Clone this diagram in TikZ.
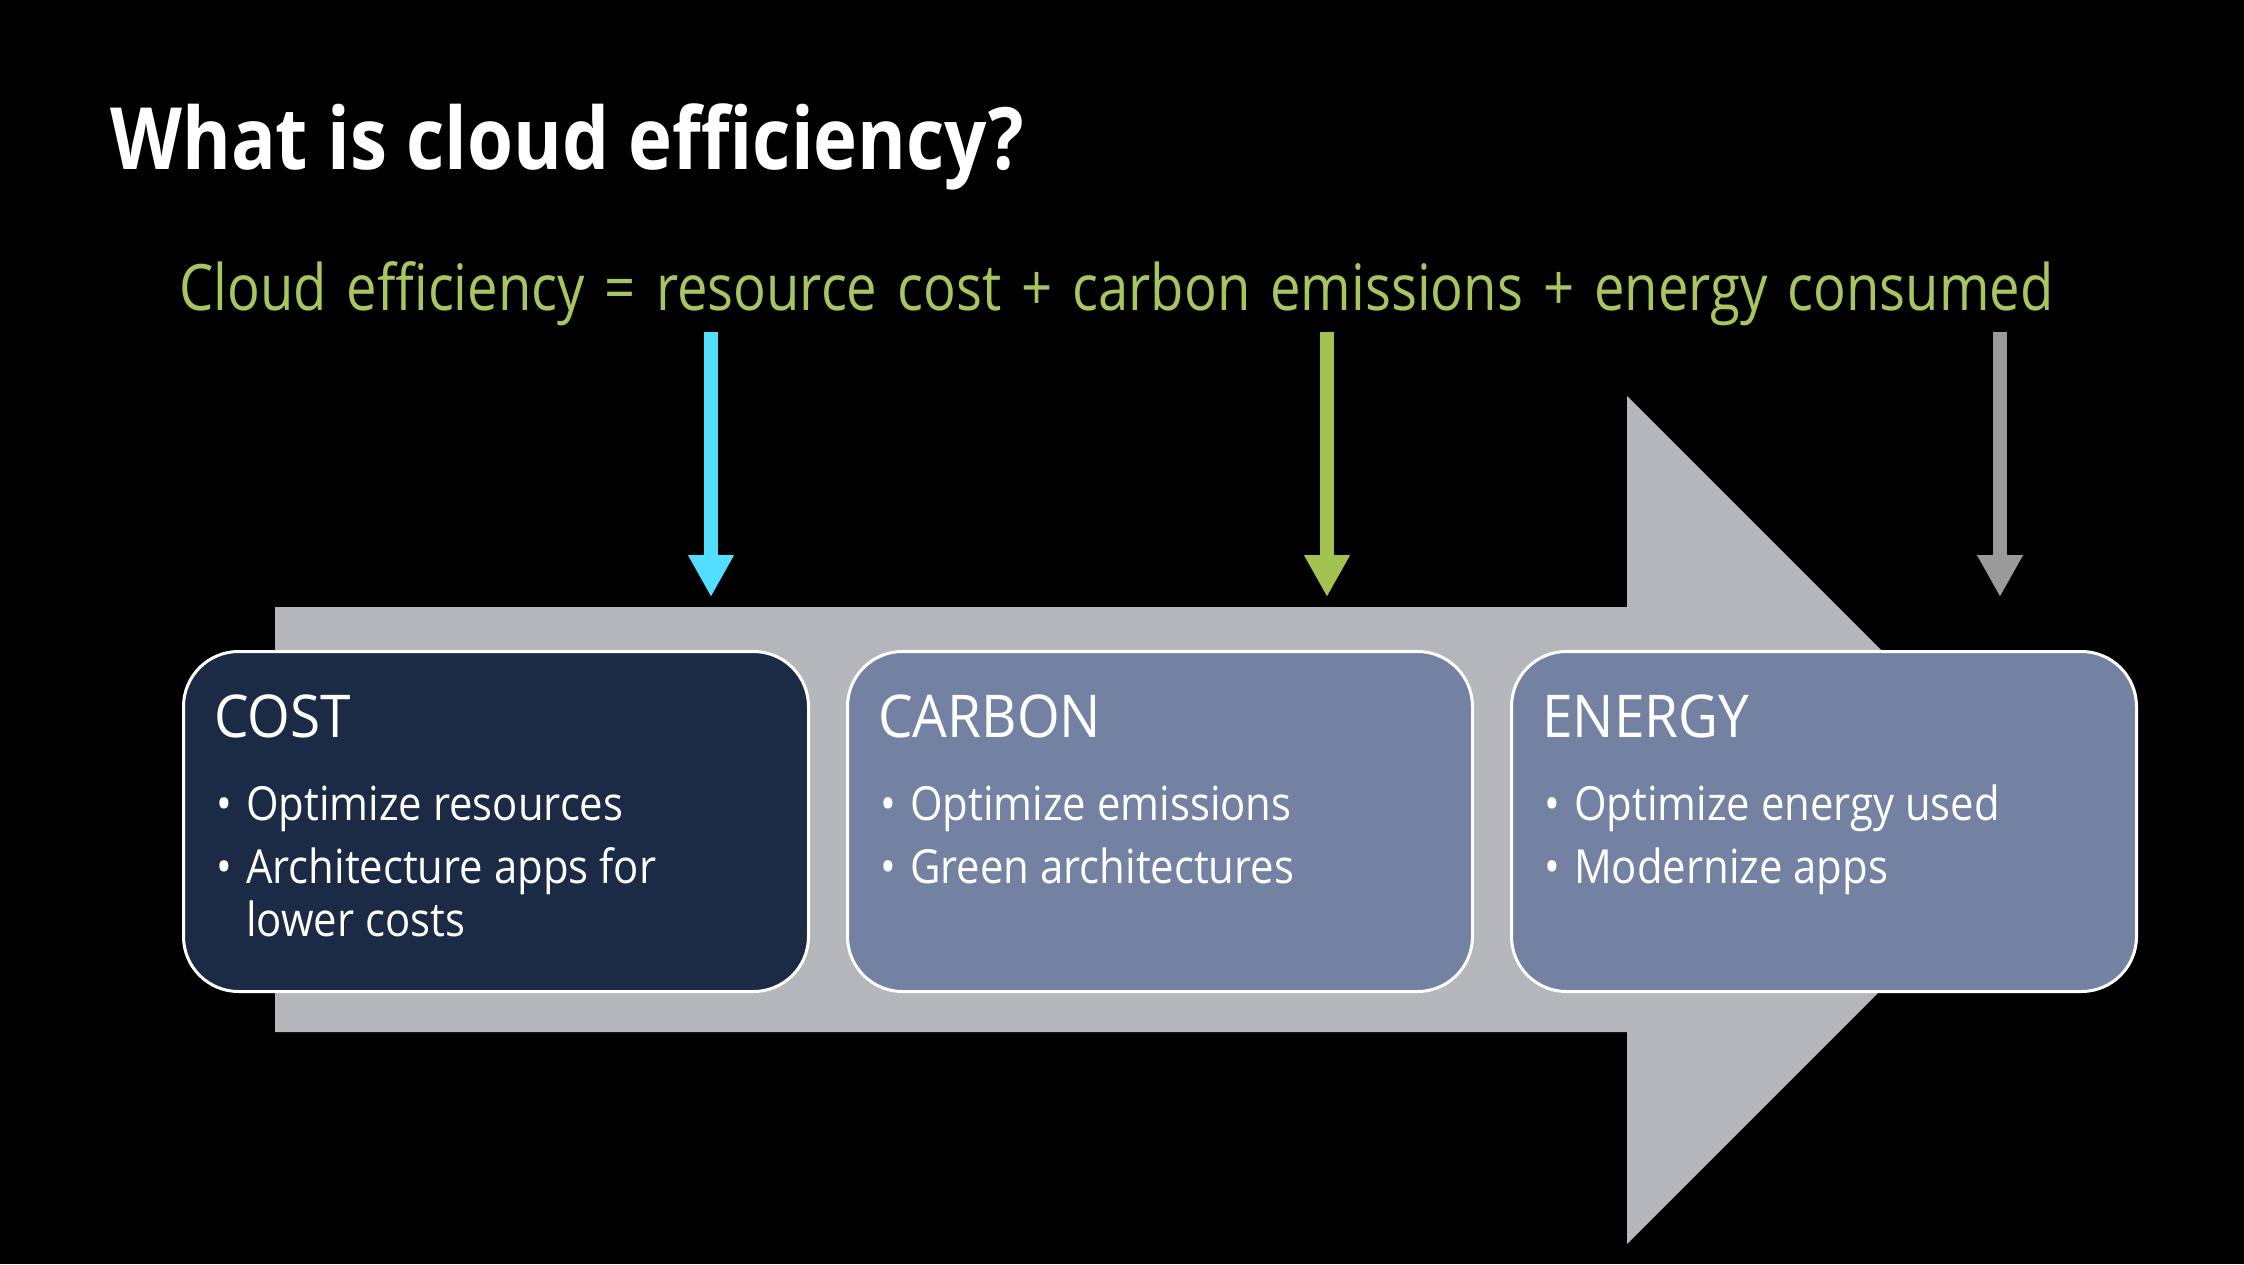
\documentclass[tikz,border=0pt]{standalone}
\usepackage{fontspec}
\setmainfont{Open Sans}
\newfontfamily\titlefont[FakeStretch=0.865]{Open Sans}
\newfontfamily\formfont[FakeStretch=0.85]{Open Sans}
\newfontfamily\headfont[FakeStretch=0.93]{Open Sans}
\newfontfamily\bodyfont[FakeStretch=0.89]{Open Sans}
\usetikzlibrary{arrows.meta}
\definecolor{bigarrow}{HTML}{B6B7BC}
\definecolor{costfill}{HTML}{1B2A45}
\definecolor{otherfill}{HTML}{7382A3}
\definecolor{formgreen}{HTML}{A6C65F}
\definecolor{arrgreen}{HTML}{A2C350}
\definecolor{arrcyan}{HTML}{52DFFF}
\definecolor{arrgray}{HTML}{9A9A9A}
\tikzset{
  card/.style={draw=white, line width=3pt, rounded corners=55pt, minimum width=625pt, minimum height=340pt, inner sep=0pt},
  cardtitle/.style={anchor=base west, inner sep=0pt, text=white, font=\headfont\fontsize{59}{62}\selectfont},
  bullettext/.style={anchor=base west, inner sep=0pt, text=white, font=\bodyfont\fontsize{47}{50}\selectfont},
  downarrow/.style={line width=14pt, -{Triangle[width=43pt,length=42pt]}},
}
\begin{document}
\begin{tikzpicture}[x=1pt,y=-1pt]
\fill[black] (0,0) rectangle (2244,1264);
\useasboundingbox (0,0) rectangle (2244,1264);
% big arrow
\fill[bigarrow] (275,607) -- (1627,607) -- (1627,396) -- (2051,820) -- (1627,1244) -- (1627,1032) -- (275,1032) -- cycle;
% title
\node[anchor=base west, inner sep=0pt, text=white, font=\titlefont\bfseries\fontsize{86}{90}\selectfont] (title) at (110,169) {What is cloud efficiency?};
\node[anchor=base west, inner sep=0pt, text=formgreen, font=\formfont\fontsize{64}{68}\selectfont] (formula) at (179,310) {\spaceskip=20pt plus 2pt minus 2pt Cloud efficiency = resource cost + carbon emissions + energy consumed};
% arrows
\coordinate (c1) at (711,332); \coordinate (t1) at (711,597);
\coordinate (c2) at (1327,332); \coordinate (t2) at (1327,597);
\coordinate (c3) at (2000,332); \coordinate (t3) at (2000,597);
\draw[downarrow, arrcyan] (c1) -- (t1);
\draw[downarrow, arrgreen] (c2) -- (t2);
\draw[downarrow, arrgray] (c3) -- (t3);
% cards
\node[card, fill=costfill, anchor=north west] (cost) at (182,650) {};
\node[card, fill=otherfill, anchor=north west] (carbon) at (846,650) {};
\node[card, fill=otherfill, anchor=north west] (energy) at (1510,650) {};
% cost text
\node[cardtitle] (costT) at ([shift={(32,87)}]cost.north west) {COST};
\node[bullettext] (costB1) at ([shift={(34,170)}]cost.north west) {•};
\node[bullettext] (costL1) at ([shift={(64,170)}]cost.north west) {Optimize resources};
\node[bullettext] (costB2) at ([shift={(34,233)}]cost.north west) {•};
\node[bullettext] (costL2) at ([shift={(64,233)}]cost.north west) {Architecture apps for};
\node[bullettext] (costL3) at ([shift={(64,286)}]cost.north west) {lower costs};
% carbon text
\node[cardtitle] (carbT) at ([shift={(32,87)}]carbon.north west) {CARBON};
\node[bullettext] (carbB1) at ([shift={(34,170)}]carbon.north west) {•};
\node[bullettext] (carbL1) at ([shift={(64,170)}]carbon.north west) {Optimize emissions};
\node[bullettext] (carbB2) at ([shift={(34,233)}]carbon.north west) {•};
\node[bullettext] (carbL2) at ([shift={(64,233)}]carbon.north west) {Green architectures};
% energy text
\node[cardtitle] (enT) at ([shift={(32,87)}]energy.north west) {ENERGY};
\node[bullettext] (enB1) at ([shift={(34,170)}]energy.north west) {•};
\node[bullettext] (enL1) at ([shift={(64,170)}]energy.north west) {Optimize energy used};
\node[bullettext] (enB2) at ([shift={(34,233)}]energy.north west) {•};
\node[bullettext] (enL2) at ([shift={(64,233)}]energy.north west) {Modernize apps};
\end{tikzpicture}
\end{document}
